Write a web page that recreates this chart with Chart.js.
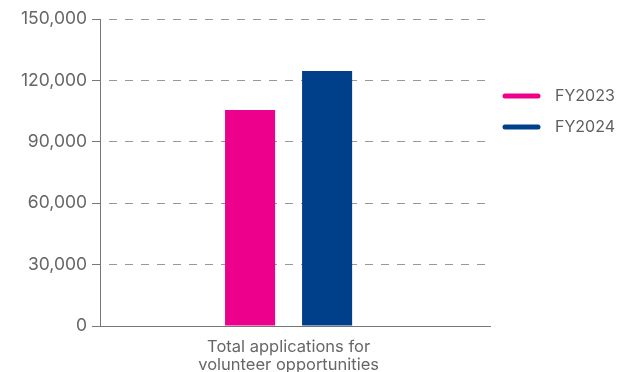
<!DOCTYPE html>
<html>
<head>
<meta charset="utf-8">
<script src="https://cdn.jsdelivr.net/npm/chart.js@4"></script>
<style>
  html, body { margin: 0; padding: 0; background: #fff; }
  #wrap { width: 618px; height: 372px; }
</style>
</head>
<body>
<div id="wrap"><canvas id="chart"></canvas></div>
<script>
const categories = [['Total applications for', 'volunteer opportunities']];
const fy2023 = [105500];
const fy2024 = [124600];
const seriesNames = ['FY2023', 'FY2024'];
const seriesColors = ['#EC008C', '#00408A'];

let ctx = document.getElementById('chart');

const chart = new Chart(ctx, {
  type: 'bar',
  data: {
    labels: categories,
    datasets: [
      { label: seriesNames[0], data: fy2023, backgroundColor: seriesColors[0], borderWidth: 0 },
      { label: seriesNames[1], data: fy2024, backgroundColor: seriesColors[1], borderWidth: 0 }
    ]
  },
  options: {
    responsive: true,
    maintainAspectRatio: false,
    animation: false,
    categoryPercentage: 0.395,
    barPercentage: 0.65,
    layout: { padding: { top: 19, left: 0, right: 0, bottom: 0 } },
    plugins: {
      tooltip: { enabled: false },
      legend: {
        position: 'right',
        align: 'start',
        maxWidth: 128,
        title: { display: true, text: '', font: { size: 10, lineHeight: 1 }, padding: { top: 44, bottom: 0 } },
        labels: {
          usePointStyle: true,
          pointStyle: 'line',
          pointStyleWidth: 33,
          padding: 15,
          color: '#5f5f5f',
          font: { family: 'Inter', size: 16 },
          generateLabels: (c) => Chart.defaults.plugins.legend.labels.generateLabels(c).map((item, i) => {
            item.text = '  ' + item.text;
            item.pointStyle = 'line';
            item.strokeStyle = seriesColors[i];
            item.lineWidth = 5;
            item.lineCap = 'round';
            return item;
          })
        }
      }
    },
    scales: {
      x: {
        grid: { display: false, drawTicks: false },
        border: { display: true, color: '#777', width: 1 },
        ticks: { color: '#666', padding: 12, font: { family: 'Inter', size: 16.5, lineHeight: 1.09 } },
        // a little room right of the category, like the reference
        afterBuildTicks: (s) => { s._valueRange = 1.034; },
        afterFit: (s) => { s.height = 46; }
      },
      y: {
        min: 0,
        max: 150000,
        ticks: {
          stepSize: 30000,
          color: '#666',
          padding: 5,
          font: { family: 'Inter', size: 17.5 },
          callback: (v) => v.toLocaleString('en-US')
        },
        grid: {
          color: '#999',
          lineWidth: 1,
          tickLength: 8,
          tickColor: '#777',
          tickBorderDash: []
        },
        border: { display: true, color: '#777', width: 1, dash: [8, 8], dashOffset: 8 },
        afterFit: (s) => { s.width = 100; }
      }
    }
  }
});
</script>
</body>
</html>
